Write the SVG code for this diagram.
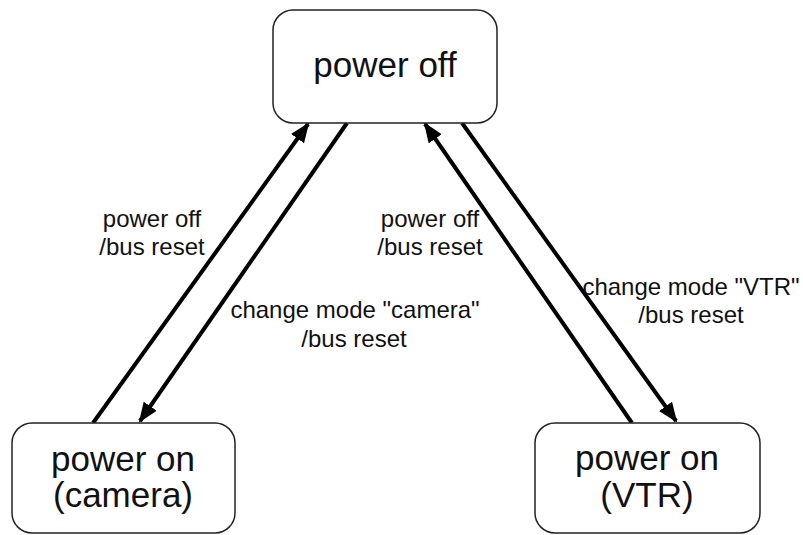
<svg xmlns="http://www.w3.org/2000/svg" width="803" height="535" viewBox="0 0 803 535">
<defs>
<style>
.box{fill:#fff;stroke:#222;stroke-width:1.5}
.nt{font-family:"Liberation Sans",Arial,sans-serif;font-size:35px;fill:#111;text-anchor:middle}
.lb{font-family:"Liberation Sans",Arial,sans-serif;font-size:24px;fill:#111;text-anchor:middle}
.ed{stroke:#000;stroke-width:4;fill:none;marker-end:url(#ah)}
</style>
<marker id="ah" markerUnits="userSpaceOnUse" markerWidth="20" markerHeight="16" refX="18" refY="8" orient="auto" viewBox="0 0 20 16">
<path d="M0,0 L20,8 L0,16 Z" fill="#000"/>
</marker>
</defs>
<rect width="803" height="535" fill="#fff"/>
<g id="connectors">
<line class="ed" x1="93" y1="423" x2="308" y2="124"/>
<line class="ed" x1="347" y1="123" x2="140" y2="421"/>
<line class="ed" x1="632" y1="423" x2="425" y2="124"/>
<line class="ed" x1="462" y1="123" x2="676" y2="421"/>
</g>
<g id="power_off">
<rect class="box" x="273" y="10" width="224" height="113" rx="20"/>
<text class="nt" x="385" y="77">power off</text>
</g>
<g id="power_on_camera">
<rect class="box" x="12" y="423" width="223" height="110" rx="20"/>
<text class="nt" x="123" y="471">power on</text>
<text class="nt" x="123" y="507">(camera)</text>
</g>
<g id="power_on_vtr">
<rect class="box" x="535" y="423" width="225" height="110" rx="20"/>
<text class="nt" x="647" y="470">power on</text>
<text class="nt" x="647" y="507">(VTR)</text>
</g>
<g id="labels">
<text class="lb" x="152" y="227">power off</text>
<text class="lb" x="152" y="255">/bus reset</text>
<text class="lb" x="430" y="227">power off</text>
<text class="lb" x="430" y="255">/bus reset</text>
<text class="lb" x="355" y="318">change mode "camera"</text>
<text class="lb" x="354" y="347">/bus reset</text>
<text class="lb" x="691" y="295">change mode "VTR"</text>
<text class="lb" x="691" y="323">/bus reset</text>
</g>
</svg>
